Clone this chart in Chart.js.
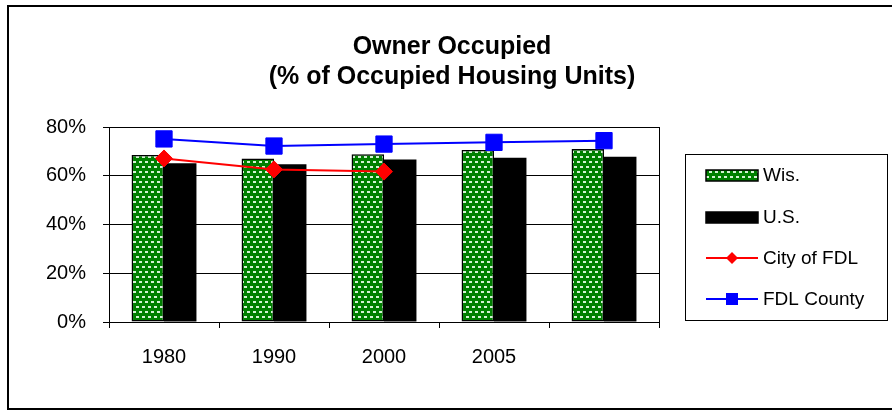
<!DOCTYPE html>
<html>
<head>
<meta charset="utf-8">
<script src="https://cdn.jsdelivr.net/npm/chart.js@4"></script>
<style>
  html, body { margin: 0; padding: 0; background: #fff; }
  #wrap { width: 892px; height: 410px; }
</style>
</head>
<body>
<div id="wrap"><canvas id="owner-chart" width="892" height="410"></canvas></div>
<script>
// Data
const categories = ['1980', '1990', '2000', '2005', ''];
const wisValues = [68.5, 67.1, 68.8, 70.6, 71.0];
const usValues = [65.1, 64.7, 66.7, 67.4, 67.8];
const cityValues = [67.1, 62.6, 61.7, null, null];
const countyValues = [75.1, 72.2, 73.0, 73.7, 74.4];
const yTicks = [0, 20, 40, 60, 80];
const titleLines = ['Owner Occupied', '(% of Occupied Housing Units)'];

const ctx = document.getElementById('owner-chart').getContext('2d');

// green fill with small white dashes
const tile = document.createElement('canvas');
tile.width = 6;
tile.height = 10;
const tg = tile.getContext('2d');
tg.fillStyle = '#008000';
tg.fillRect(0, 0, 6, 10);
tg.fillStyle = 'rgba(235,255,235,0.9)';
tg.fillRect(1, 1, 3, 2);
tg.fillRect(4, 6, 2, 2);
tg.fillRect(0, 6, 1, 2);
const wisPattern = ctx.createPattern(tile, 'repeat');

// title, frame, plot box and legend drawn by hand
const decorPlugin = {
    id: 'decor',
    afterDraw(chart) {
        const c = chart.ctx;
        const area = chart.chartArea;
        c.save();

        // plot box
        c.strokeStyle = '#000';
        c.lineWidth = 1;
        c.strokeRect(area.left + 0.5, area.top + 0.5, area.right - area.left, area.bottom - area.top);

        // outer frame
        c.lineWidth = 2;
        c.beginPath();
        c.moveTo(893, 6);
        c.lineTo(8, 6);
        c.lineTo(8, 409);
        c.lineTo(893, 409);
        c.stroke();

        // title
        c.fillStyle = '#000';
        c.font = 'bold 25px "Liberation Sans", Arial, sans-serif';
        c.textAlign = 'center';
        c.textBaseline = 'middle';
        c.fillText(titleLines[0], 452, 47);
        c.fillText(titleLines[1], 452, 77);

        // legend
        c.lineWidth = 1;
        c.strokeStyle = '#000';
        c.strokeRect(685.5, 154.5, 202, 166);
        const rows = [175, 217, 258, 299];
        const ds = chart.data.datasets;
        c.font = '19px "Liberation Sans", Arial, sans-serif';
        c.textAlign = 'left';
        ds.forEach((d, i) => {
            const y = rows[i];
            if (d.type === 'line') {
                c.strokeStyle = d.borderColor;
                c.lineWidth = 2;
                c.beginPath();
                c.moveTo(706, y);
                c.lineTo(758, y);
                c.stroke();
                c.fillStyle = d.pointBackgroundColor;
                if (d.pointStyle === 'rectRot') {
                    c.beginPath();
                    c.moveTo(732 - 6, y);
                    c.lineTo(732, y - 6);
                    c.lineTo(732 + 6, y);
                    c.lineTo(732, y + 6);
                    c.closePath();
                    c.fill();
                } else {
                    c.fillRect(726, y - 6, 12, 12);
                }
            } else {
                c.fillStyle = d.backgroundColor;
                c.fillRect(706, y - 5, 52, 11);
                c.strokeStyle = '#000';
                c.lineWidth = 1.5;
                c.strokeRect(706, y - 5, 52, 11);
            }
            c.fillStyle = '#000';
            c.fillText(d.label, 763, y + 1);
        });
        c.restore();
    }
};

new Chart(ctx, {
    type: 'bar',
    data: {
        labels: categories,
        datasets: [
            {
                label: 'Wis.',
                data: wisValues,
                backgroundColor: wisPattern,
                borderColor: '#000',
                borderWidth: 1.5,
                borderSkipped: false,
                categoryPercentage: 0.59,
                barPercentage: 1,
                order: 3
            },
            {
                label: 'U.S.',
                data: usValues,
                backgroundColor: '#000',
                borderColor: '#000',
                borderWidth: 0,
                categoryPercentage: 0.59,
                barPercentage: 1,
                order: 3
            },
            {
                type: 'line',
                label: 'City of FDL',
                data: cityValues,
                borderColor: '#ff0000',
                backgroundColor: '#ff0000',
                pointBackgroundColor: '#ff0000',
                pointBorderColor: '#ff0000',
                pointStyle: 'rectRot',
                pointRadius: 8.5,
                borderWidth: 2,
                pointBorderWidth: 1,
                spanGaps: false,
                order: 1
            },
            {
                type: 'line',
                label: 'FDL County',
                data: countyValues,
                borderColor: '#0000ff',
                backgroundColor: '#0000ff',
                pointBackgroundColor: '#0000ff',
                pointBorderColor: '#0000ff',
                pointStyle: 'rect',
                pointRadius: 11.5,
                borderWidth: 2,
                pointBorderWidth: 1,
                order: 0
            }
        ]
    },
    options: {
        responsive: false,
        animation: false,
        events: [],
        layout: { padding: { left: 40, right: 233, top: 127, bottom: 40 } },
        plugins: {
            legend: { display: false },
            title: { display: false },
            tooltip: { enabled: false }
        },
        scales: {
            x: {
                grid: {
                    offset: true,
                    drawOnChartArea: false,
                    drawTicks: true,
                    tickLength: 6,
                    color: '#000'
                },
                border: { color: '#000', width: 1 },
                ticks: {
                    color: '#000',
                    font: { family: '"Liberation Sans", Arial, sans-serif', size: 20 },
                    padding: 17,
                    maxRotation: 0
                },
                afterFit(scale) { scale.height = 48; }
            },
            y: {
                min: 0,
                max: 80,
                afterBuildTicks(scale) {
                    scale.ticks = yTicks.map(v => ({ value: v }));
                },
                grid: {
                    color: '#000',
                    tickLength: 6,
                    drawTicks: true
                },
                border: { color: '#000', width: 1 },
                ticks: {
                    color: '#000',
                    font: { family: '"Liberation Sans", Arial, sans-serif', size: 20 },
                    padding: 17,
                    callback: v => v + '%'
                },
                afterFit(scale) { scale.width = 69; }
            }
        }
    },
    plugins: [decorPlugin]
});
</script>
</body>
</html>
